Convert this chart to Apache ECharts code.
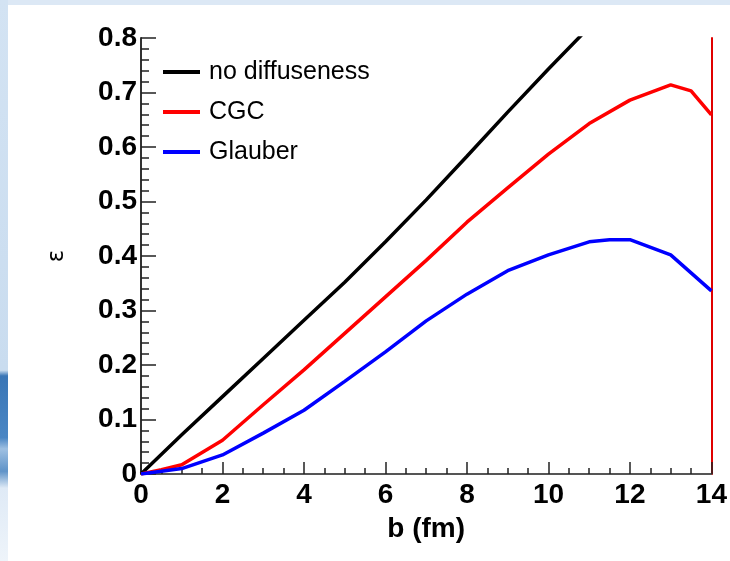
<!DOCTYPE html>
<html>
<head>
<meta charset="utf-8">
<script src="https://cdn.jsdelivr.net/npm/echarts@6/dist/echarts.min.js"></script>
<style>html,body{margin:0;padding:0;background:#fff}#c{width:730px;height:561px}</style>
</head>
<body>
<div id="c"></div>
<script>
// ---- data ----
var bBlack = [0, 1, 2, 3, 4, 5, 6, 7, 8, 9, 10, 11];
var eBlack = [0, 0.072, 0.142, 0.212, 0.282, 0.352, 0.426, 0.503, 0.583, 0.664, 0.743, 0.82];

var bRed = [0, 0.5, 1, 2, 3, 4, 5, 6, 7, 8, 9, 10, 11, 12, 13, 13.5, 14];
var eRed = [0, 0.008, 0.017, 0.062, 0.127, 0.191, 0.258, 0.325, 0.392, 0.462, 0.525, 0.587, 0.643, 0.686, 0.714, 0.703, 0.659];

var bBlue = [0, 1, 2, 3, 4, 5, 6, 7, 8, 9, 10, 11, 11.5, 12, 13, 14];
var eBlue = [0, 0.010, 0.035, 0.075, 0.117, 0.170, 0.224, 0.281, 0.330, 0.373, 0.402, 0.426, 0.430, 0.430, 0.402, 0.336];

var seriesNames = ['no diffuseness', 'CGC', 'Glauber'];
var xTitle = 'b (fm)';
var yTitle = 'ε';

function pairs(xs, ys) { return xs.map(function (x, i) { return [x, ys[i]]; }); }

var chart = echarts.init(document.getElementById('c'));
var tickFont = { fontFamily: 'Liberation Sans, Arial, sans-serif', fontWeight: 'bold', fontSize: 28, color: '#000' };

chart.setOption({
  backgroundColor: '#fff',
  animation: false,
  graphic: [
    { type: 'rect', shape: { x: 0, y: 0, width: 730, height: 5 }, style: { fill: '#dce8f5' }, silent: true },
    { type: 'rect', shape: { x: 0, y: 0, width: 8, height: 561 },
      style: { fill: new echarts.graphic.LinearGradient(0, 0, 0, 1, [
        { offset: 0, color: '#d3e3f3' }, { offset: 0.66, color: '#c9dcef' },
        { offset: 0.67, color: '#3a76b6' }, { offset: 0.78, color: '#4a86c4' },
        { offset: 0.8, color: '#9fc0e2' }, { offset: 0.84, color: '#5f93c8' },
        { offset: 0.87, color: '#dfeaf6' }, { offset: 1, color: '#eef4fa' }]) }, silent: true }
  ],
  grid: { left: 141, right: 17, top: 38, bottom: 87, containLabel: false },
  legend: {
    orient: 'vertical', left: 163, top: 58, padding: 0,
    itemWidth: 37, itemHeight: 4, itemGap: 12,
    icon: 'rect',
    textStyle: { fontFamily: 'Liberation Sans, Arial, sans-serif', fontSize: 25, color: '#000', padding: [0, 0, 0, 4], lineHeight: 28 },
    data: seriesNames
  },
  xAxis: [{
    type: 'value', min: 0, max: 14, interval: 2, position: 'bottom',
    name: xTitle, nameLocation: 'middle', nameGap: 41,
    nameTextStyle: tickFont,
    axisLine: { show: true, onZero: false, lineStyle: { color: '#e00000', width: 2 } },
    axisTick: { show: true, inside: true, length: 12, lineStyle: { color: '#222', width: 1.5 } },
    minorTick: { show: true, splitNumber: 4, length: 6, lineStyle: { color: '#222', width: 1.5 } },
    axisLabel: Object.assign({ margin: 7 }, tickFont),
    splitLine: { show: false }
  }, {
    type: 'value', min: 0, max: 14, position: 'top',
    axisLine: { show: true, lineStyle: { color: '#555', width: 2 } },
    axisTick: { show: false }, axisLabel: { show: false }, splitLine: { show: false }
  }],
  yAxis: [{
    type: 'value', min: 0, max: 0.8, interval: 0.1, position: 'left',
    name: yTitle, nameLocation: 'middle', nameGap: 72, nameRotate: 90,
    nameTextStyle: { fontFamily: 'DejaVu Sans, sans-serif', fontSize: 23, color: '#000' },
    axisLine: { show: true, onZero: false, lineStyle: { color: '#333', width: 2 } },
    axisTick: { show: true, inside: true, length: 15, lineStyle: { color: '#222', width: 1.5 } },
    minorTick: { show: true, splitNumber: 5, length: 8, lineStyle: { color: '#222', width: 1.5 } },
    axisLabel: Object.assign({ margin: 4, formatter: function (v) { return v === 0 ? '0' : v.toFixed(1); } }, tickFont),
    splitLine: { show: false }
  }, {
    type: 'value', min: 0, max: 0.8, position: 'right',
    axisLine: { show: true, onZero: false, lineStyle: { color: '#e00000', width: 2 } },
    axisTick: { show: false }, axisLabel: { show: false }, splitLine: { show: false }
  }],
  series: [
    { name: seriesNames[0], type: 'line', data: pairs(bBlack, eBlack), symbol: 'none', clip: true,
      lineStyle: { color: '#000', width: 3.5 }, itemStyle: { color: '#000' } },
    { name: seriesNames[1], type: 'line', data: pairs(bRed, eRed), symbol: 'none', clip: true,
      lineStyle: { color: '#ff0000', width: 3.5 }, itemStyle: { color: '#ff0000' } },
    { name: seriesNames[2], type: 'line', data: pairs(bBlue, eBlue), symbol: 'none', clip: true,
      lineStyle: { color: '#0000ff', width: 3.5 }, itemStyle: { color: '#0000ff' } }
  ]
});
</script>
</body>
</html>
